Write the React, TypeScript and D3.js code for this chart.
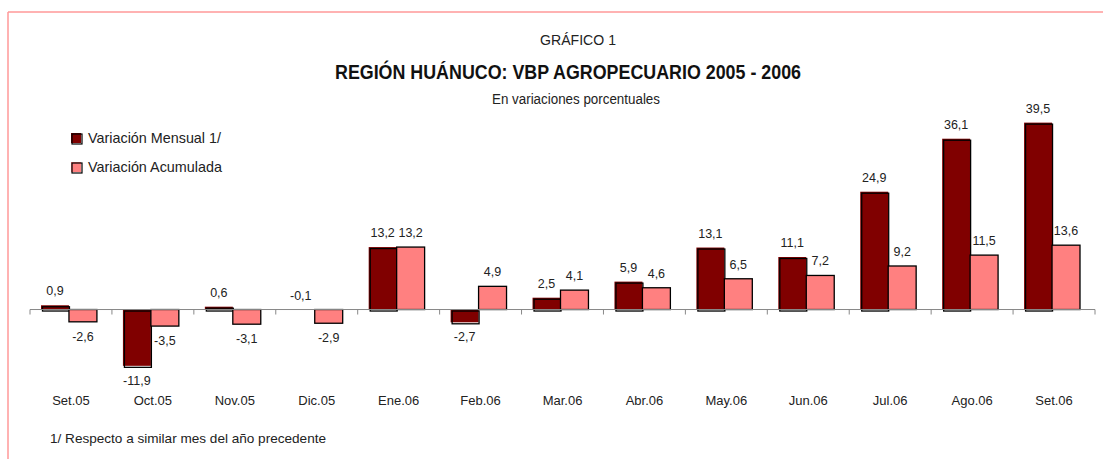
import React from "react";
import * as d3 from "d3";

const months = ["Set.05", "Oct.05", "Nov.05", "Dic.05", "Ene.06", "Feb.06", "Mar.06", "Abr.06", "May.06", "Jun.06", "Jul.06", "Ago.06", "Set.06"];
const mensual = [0.9, -11.9, 0.6, -0.1, 13.2, -2.7, 2.5, 5.9, 13.1, 11.1, 24.9, 36.1, 39.5];
const acumulada = [-2.6, -3.5, -3.1, -2.9, 13.2, 4.9, 4.1, 4.6, 6.5, 7.2, 9.2, 11.5, 13.6];
const seriesNames = ["Variación Mensual 1/", "Variación Acumulada"];

const W = 1103;
const H = 459;
const sans = "'Liberation Sans', Arial, sans-serif";
const colors = ["#800000", "#FF8080"];

// excel style: comma decimals, plain hyphen
const fmt = (v: number) => v.toFixed(1).replace(".", ",");

export default function App() {
  const x = d3.scaleBand().domain(months).range([30, 1095]).padding(0);
  const inner = d3.scaleBand().domain(["m", "a"]).range([11, x.bandwidth() - 15]).padding(0);
  const y = d3.scaleLinear().domain([-15, 45]).range([380.5, 96.6]);
  const y0 = y(0);

  const series = [mensual, acumulada];

  return (
    <svg width={W} height={H} style={{ position: "absolute", left: 0, top: 0, background: "#fff" }}>
      {/* frame */}
      <line x1={8} x2={W} y1={12} y2={12} stroke="#FF9999" strokeWidth={1.5} />
      <line x1={8} x2={8} y1={12} y2={H} stroke="#FF9999" strokeWidth={1.5} />

      {/* titles (narrow font squeezed with textLength) */}
      <text x={578} y={45} textAnchor="middle" fontFamily={sans} fontSize={15} fill="#222" textLength={76} lengthAdjust="spacingAndGlyphs">GRÁFICO 1</text>
      <text x={568} y={79} textAnchor="middle" fontFamily={sans} fontWeight="bold" fontSize={20} fill="#111" textLength={466} lengthAdjust="spacingAndGlyphs">REGIÓN HUÁNUCO: VBP AGROPECUARIO 2005 - 2006</text>
      <text x={576} y={104} textAnchor="middle" fontFamily={sans} fontSize={14} fill="#222" textLength={168} lengthAdjust="spacingAndGlyphs">En variaciones porcentuales</text>

      {/* legend */}
      {seriesNames.map((s, i) => (
        <g key={s} transform={`translate(71,${133 + i * 29})`}>
          <rect x={0} y={0} width={10} height={10} fill={colors[i]} />
          <rect x={1} y={1} width={10} height={10} fill="none" stroke="#000" strokeWidth={1.2} />
          <text x={17} y={10} fontFamily={sans} fontSize={15} fill="#222" textLength={i === 0 ? 133 : 134} lengthAdjust="spacingAndGlyphs">{s}</text>
        </g>
      ))}

      {/* bars */}
      {months.map((m, i) => (
        <g key={m} transform={`translate(${x(m)},0)`}>
          {series.map((vals, j) => {
            const v = vals[i];
            const bx = inner(j === 0 ? "m" : "a")!;
            const bw = inner.bandwidth();
            const top = Math.min(y(v), y0);
            const h = Math.abs(y(v) - y0);
            return (
              <g key={j}>
                {j === 0 ? (
                  h > 1 && (
                    <>
                      <rect x={bx} y={top} width={bw} height={h} fill={colors[0]} />
                      <rect x={bx + 1.5} y={top + 1.5} width={bw - 1} height={h} fill="none" stroke="#000" strokeWidth={1.3} />
                    </>
                  )
                ) : (
                  <rect x={bx} y={top} width={bw} height={h} fill={colors[1]} stroke="#000" strokeWidth={1.3} />
                )}
                <text
                  x={bx + bw / 2}
                  y={v < -1 ? y(v) + 19 : top - 10}
                  textAnchor="middle"
                  fontFamily={sans}
                  fontSize={12.5}
                  fill="#222"
                >
                  {fmt(v)}
                </text>
              </g>
            );
          })}
        </g>
      ))}

      {/* axis */}
      <line x1={30} x2={1095} y1={y0} y2={y0} stroke="#888" strokeWidth={1} />
      {d3.range(months.length + 1).map((k) => {
        const tx = 30 + k * x.step();
        return <line key={k} x1={tx} x2={tx} y1={y0} y2={y0 + 5} stroke="#888" strokeWidth={1} />;
      })}
      {months.map((m) => (
        <text key={m} x={x(m)! + x.bandwidth() / 2} y={405} textAnchor="middle" fontFamily={sans} fontSize={13} fill="#222">
          {m}
        </text>
      ))}

      <text x={50} y={443} fontFamily={sans} fontSize={13} fill="#222" textLength={276} lengthAdjust="spacingAndGlyphs">1/ Respecto a similar mes del año precedente</text>
    </svg>
  );
}
